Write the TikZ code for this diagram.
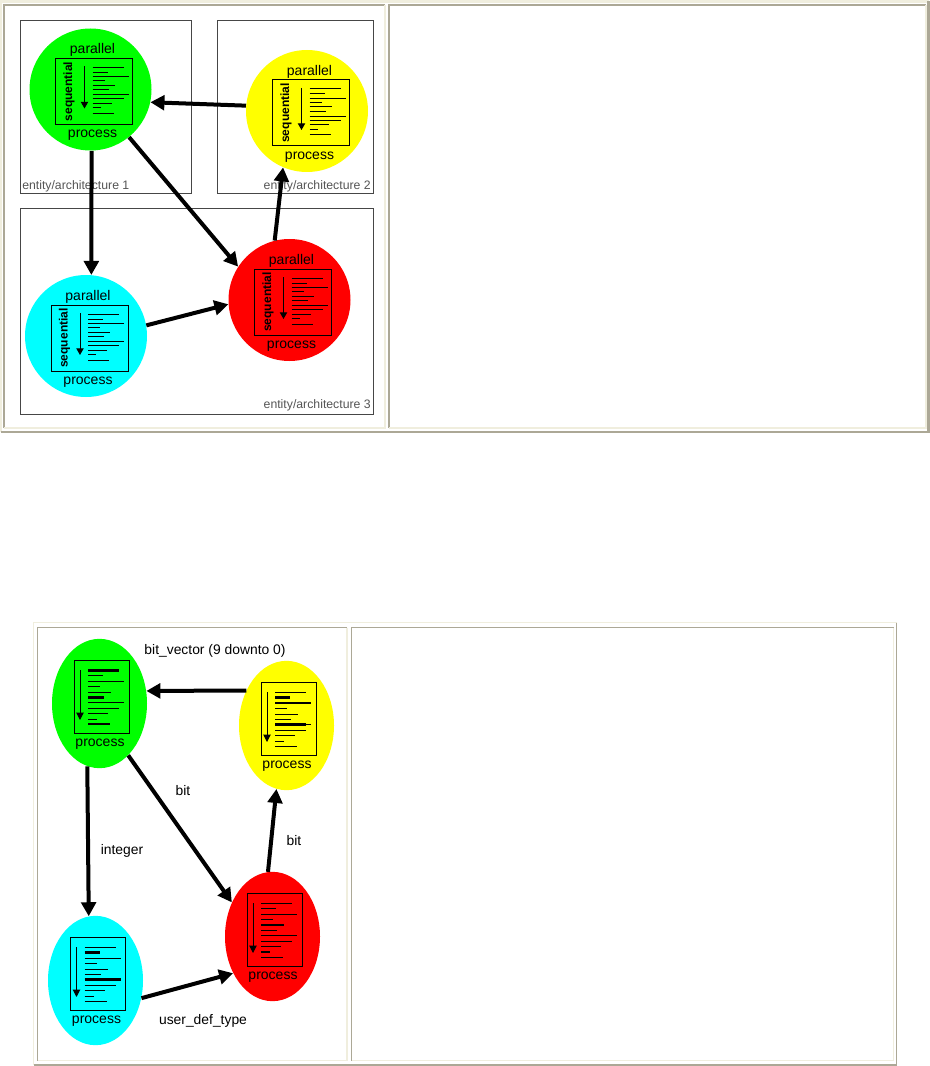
\documentclass[tikz,border=0pt]{standalone}
\usepackage{fontspec}
\setmainfont{Liberation Sans}
\definecolor{FrameDark}{RGB}{172, 168, 150}
\definecolor{FrameLight}{RGB}{240, 238, 222}
\definecolor{BoxLine}{RGB}{70, 70, 70}
\definecolor{EntityGray}{RGB}{85, 85, 85}
\definecolor{BallGreen}{RGB}{0, 255, 0}
\definecolor{BallYellow}{RGB}{255, 255, 0}
\definecolor{BallRed}{RGB}{255, 0, 0}
\definecolor{BallCyan}{RGB}{0, 255, 255}
\usetikzlibrary{arrows.meta, positioning, shapes.geometric}

% raised table frame, sunken cell frame: corners, then line width
\newcommand{\tableframe}[5]{%
  \draw[FrameLight, line width=#5] (#1,#4) -- (#1,#2) -- (#3,#2);
  \draw[FrameDark, line width=#5] (#3,#2) -- (#3,#4) -- (#1,#4);}
\newcommand{\cellframe}[5]{%
  \draw[FrameDark, line width=#5] (#1,#4) -- (#1,#2) -- (#3,#2);
  \draw[FrameLight, line width=#5] (#3,#2) -- (#3,#4) -- (#1,#4);}

\begin{document}
\begin{tikzpicture}[
    x=0.75pt, y=-0.75pt,
    every node/.style={font=\fontsize{10.5}{12}\selectfont, inner sep=0pt, align=center},
    ball/.style={circle, minimum size=91.5pt},
    egg/.style={ellipse, minimum width=71.25pt, minimum height=97pt},
    entity/.style={draw=BoxLine, line width=0.75pt},
    entitylabel/.style={font=\fontsize{9.2}{11}\selectfont, text=EntityGray},
    flow/.style={-{Triangle[length=10.5pt, width=11pt]}, line width=3pt},
    flowlabel/.style={font=\fontsize{10.4}{12}\selectfont},
    pics/bigproc/.style={code={
        \node (-par) at (2,-39.5) {parallel};
        \node (-pro) at (2,46) {process};
        \begin{scope}[shift={(-35,-31)}]
          \draw[line width=0.75pt] (0,0) rectangle (77,66);
          \node[rotate=90, font=\fontsize{9}{11}\selectfont\bfseries] (-seq) at (13.5,33) {sequential};
          \draw[-{Triangle[length=5pt, width=5.5pt]}, line width=0.75pt] (29,8) -- (29,50);
          \foreach \dy/\len in {9/31, 14/15, 18.5/36, 22.5/12, 27/22, 31.5/16, 36.5/36, 40.5/31, 45/19, 49.5/8, 55/21}
            \draw[line width=0.75pt] (37,\dy) -- ++(\len,0);
        \end{scope}
    }},
    pics/smallproc/.style={code={
        \node (-pro) at (0.5,41) {process};
        \begin{scope}[shift={(-25.5,-43.5)}]
          \draw[line width=0.75pt] (0,0) rectangle (55,73);
          \draw[-{Triangle[length=5.5pt, width=5.5pt]}, line width=0.75pt] (6,10) -- (6,60);
          \foreach \dy/\len in {10.5/31, 15.5/15, 21/36, 26.5/12, 32/23, 37.5/16, 42.5/36, 48/31, 53.5/20, 59/9, 64/22}
            \draw[line width=0.75pt] (14,\dy) -- ++(\len,0);
          \foreach \dy/\len in {#1}
            \draw[line width=1.6pt] (14,\dy) -- ++(\len,0);
        \end{scope}
    }}
]
\useasboundingbox (0,0) rectangle (930,1066);
\fill[white] (0,0) rectangle (930,1066);

% upper table
\tableframe{1}{1.5}{928.5}{432}{1.8pt}
\cellframe{4}{5}{385}{428}{1.5pt}
\cellframe{389}{5}{926}{428}{1.5pt}

\draw[entity] (20.5,20.5) rectangle (191.5,194);
\draw[entity] (217,20.5) rectangle (373.5,194);
\draw[entity] (20.5,208.5) rectangle (373.5,414);
\node[entitylabel, anchor=west] (ent1) at (22,186) {entity/architecture 1};
\node[entitylabel, anchor=east] (ent2) at (371,186) {entity/architecture 2};
\node[entitylabel, anchor=east] (ent3) at (371,405.5) {entity/architecture 3};

\node[ball, fill=BallGreen] (greenBall) at (90.5,89.5) {};
\node[ball, fill=BallYellow] (yellowBall) at (307,111) {};
\node[ball, fill=BallRed] (redBall) at (289.5,300) {};
\node[ball, fill=BallCyan] (cyanBall) at (86,336) {};
\pic (greenPr) at (90.5,89.5) {bigproc};
\pic (yellowPr) at (307.5,111) {bigproc};
\pic (redPr) at (289.5,300) {bigproc};
\pic (cyanPr) at (86,336) {bigproc};

\draw[flow] (yellowBall.175) -- (greenBall.-12);
\draw[flow] (greenBall.-89) -- (cyanBall.85);
\draw[flow] (greenBall.-51) -- (redBall.147);
\draw[flow] (cyanBall.10) -- (redBall.184);
\draw[flow] (redBall.104) -- (yellowBall.247);

% lower table
\tableframe{33.5}{622.5}{896.5}{1065}{1.1pt}
\cellframe{37.5}{627.5}{347}{1060.5}{1.1pt}
\cellframe{351.5}{627.5}{893.5}{1060.5}{1.1pt}

\node[egg, fill=BallGreen] (greenEgg) at (99.5,703.5) {};
\node[egg, fill=BallYellow] (yellowEgg) at (286.5,725.5) {};
\node[egg, fill=BallRed] (redEgg) at (272.5,936.5) {};
\node[egg, fill=BallCyan] (cyanEgg) at (95.5,980.5) {};
\pic (greenSm) at (99.5,703.5) {smallproc={10.5/31, 37.5/16, 64/22}};
\pic (yellowSm) at (286.5,725.5) {smallproc={15.5/15, 21/36, 42.5/31}};
\pic (redSm) at (272.5,936.5) {smallproc={32/23, 59/9}};
\pic (cyanSm) at (96,980.5) {smallproc={15.5/15, 42.5/36}};

\draw[flow] (yellowEgg.139) -- (greenEgg.15);
\draw[flow] (greenEgg.259) -- (cyanEgg.96);
\draw[flow] (greenEgg.-61) -- (redEgg.140);
\draw[flow] (cyanEgg.-21) -- (redEgg.223);
\draw[flow] (redEgg.94) -- (yellowEgg.261);

\node[flowlabel] (lblVector) at (215,650.5) {bit\_vector (9 downto 0)};
\node[flowlabel] (lblBitA) at (183,791) {bit};
\node[flowlabel] (lblBitB) at (294,841) {bit};
\node[flowlabel] (lblInt) at (122,850.5) {integer};
\node[flowlabel] (lblUser) at (203,1021) {user\_def\_type};
\end{tikzpicture}
\end{document}
